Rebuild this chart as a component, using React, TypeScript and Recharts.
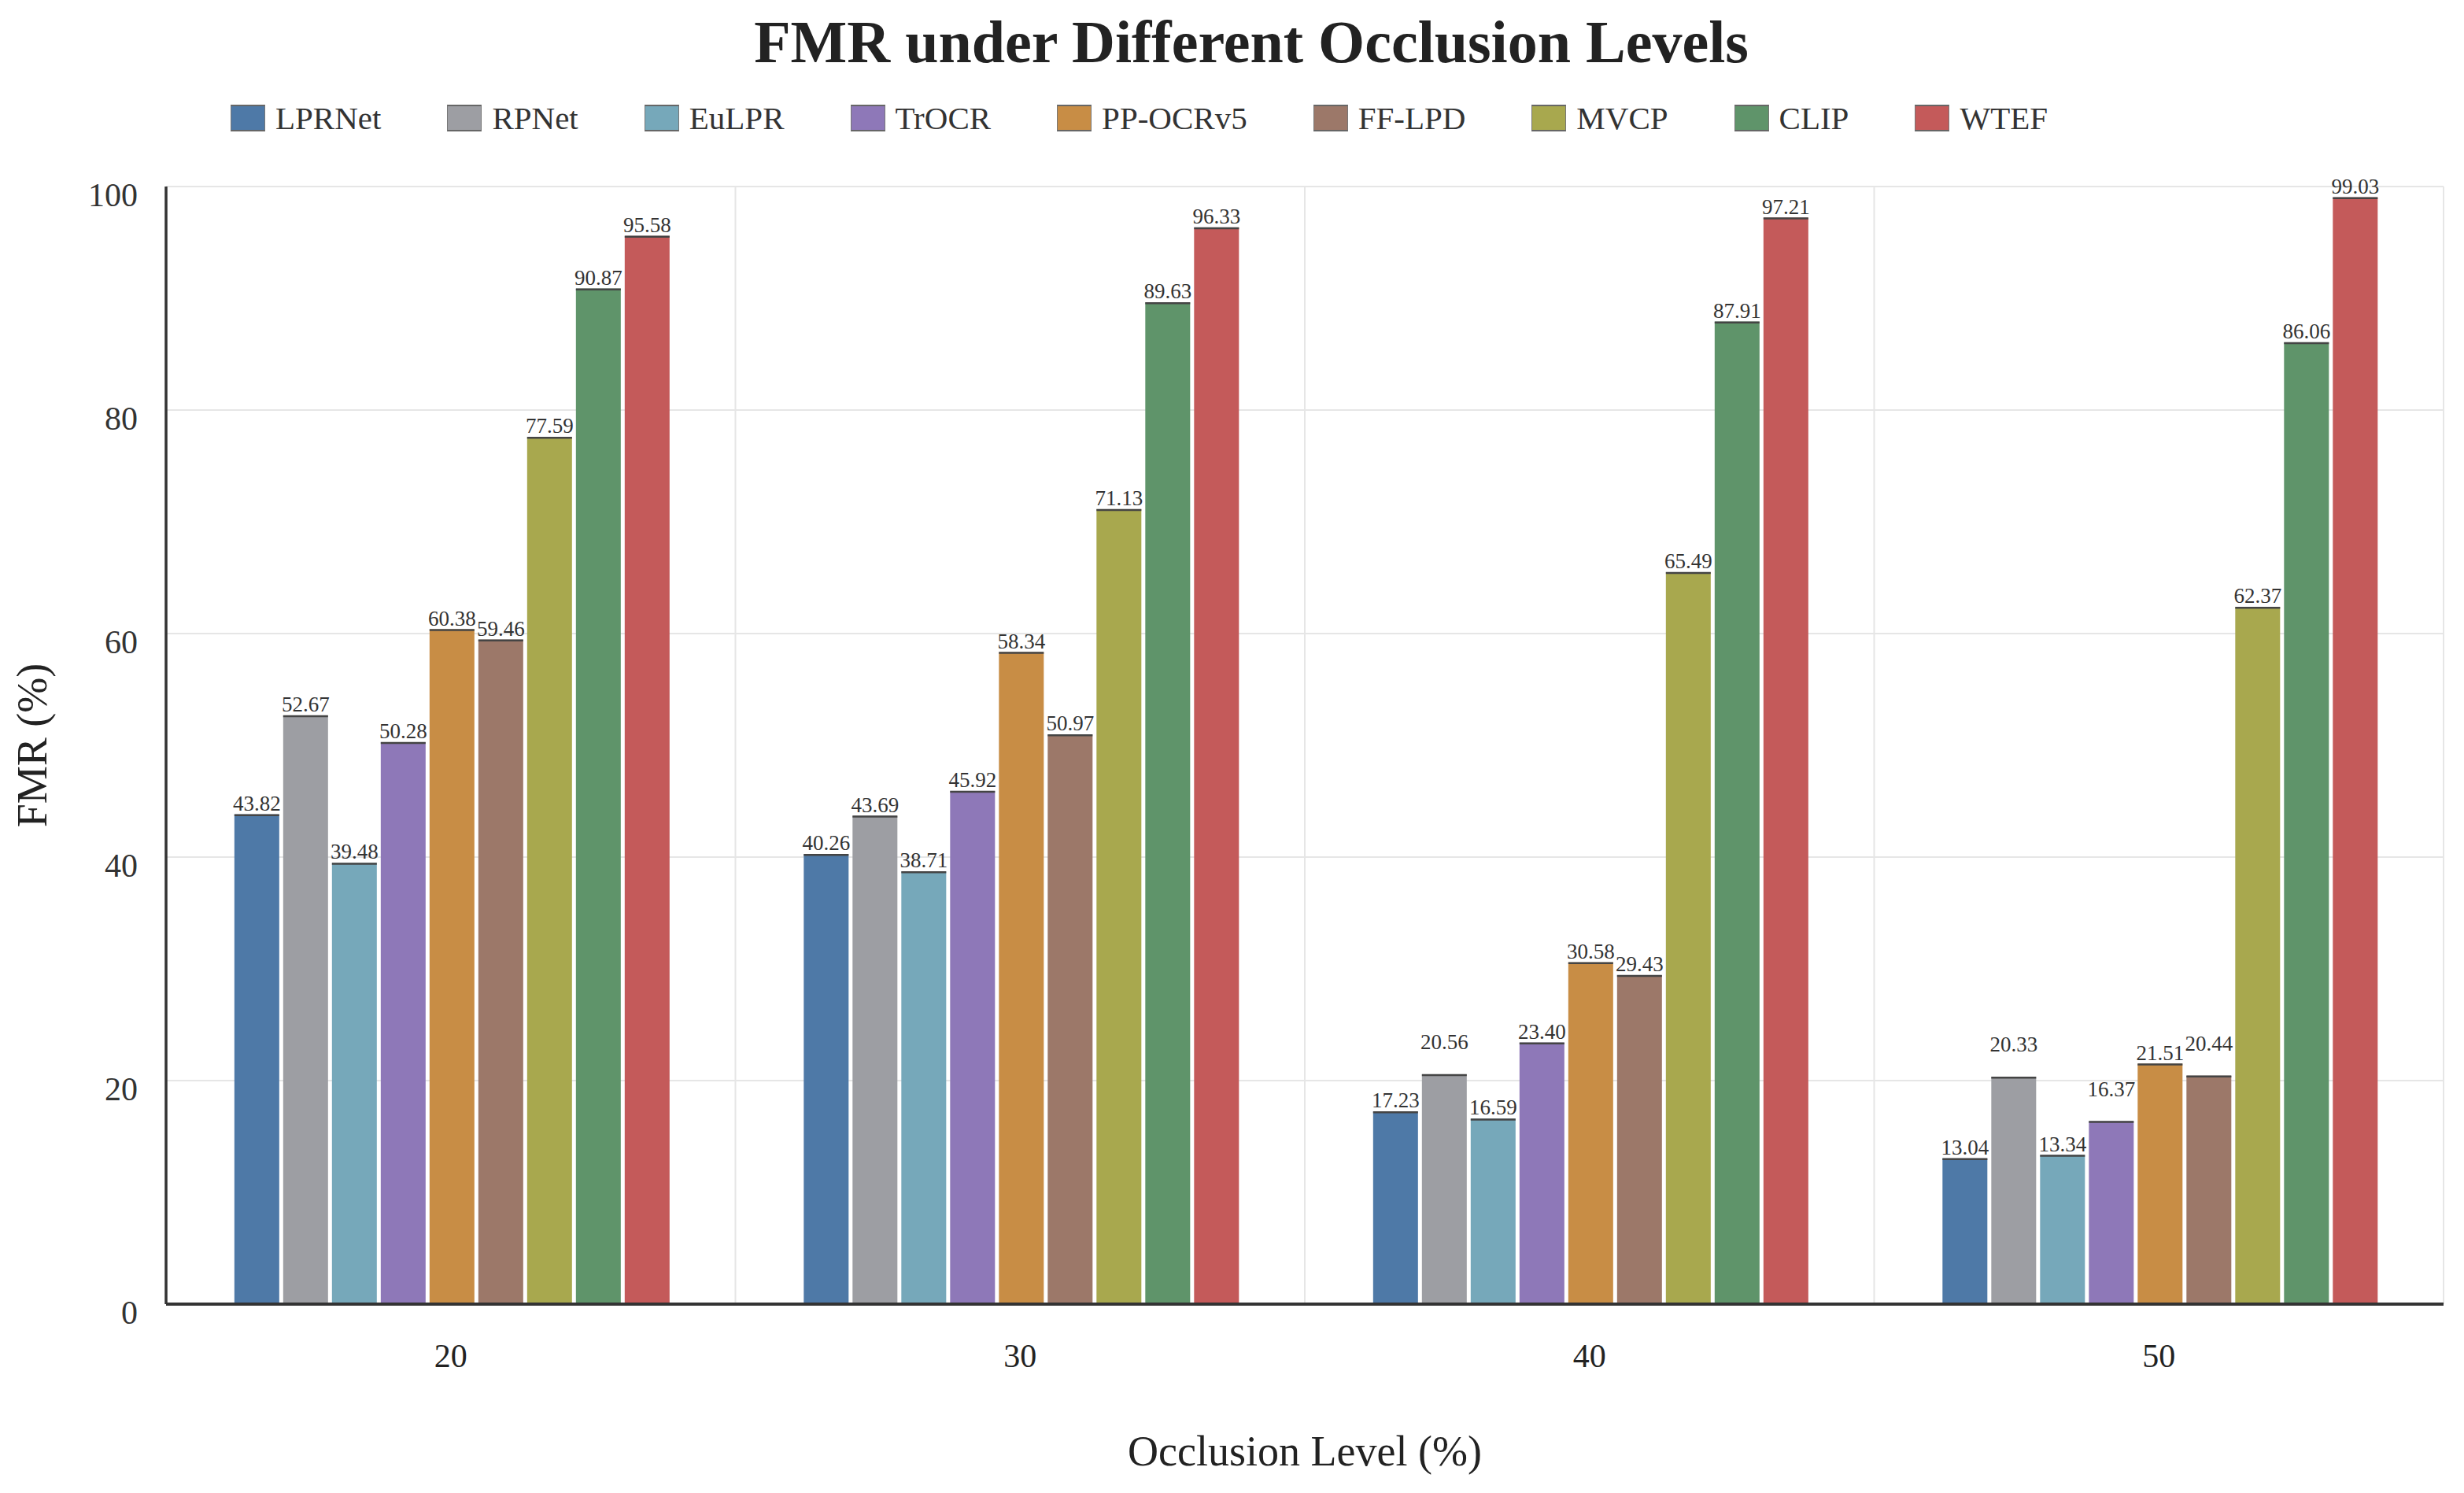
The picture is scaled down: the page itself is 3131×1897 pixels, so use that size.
import React from "react";
import {
  BarChart,
  Bar,
  XAxis,
  YAxis,
  CartesianGrid,
  LabelList,
} from "recharts";

const levels = ["20", "30", "40", "50"];
const methods = ["LPRNet", "RPNet", "EuLPR", "TrOCR", "PP-OCRv5", "FF-LPD", "MVCP", "CLIP", "WTEF"];

const lprnet = [43.82, 40.26, 17.23, 13.04];
const rpnet = [52.67, 43.69, 20.56, 20.33];
const eulpr = [39.48, 38.71, 16.59, 13.34];
const trocr = [50.28, 45.92, 23.4, 16.37];
const ppocr = [60.38, 58.34, 30.58, 21.51];
const fflpd = [59.46, 50.97, 29.43, 20.44];
const mvcp = [77.59, 71.13, 65.49, 62.37];
const clip = [90.87, 89.63, 87.91, 86.06];
const wtef = [95.58, 96.33, 97.21, 99.03];

const yTicks = [0, 20, 40, 60, 80, 100];

const seriesValues = [lprnet, rpnet, eulpr, trocr, ppocr, fflpd, mvcp, clip, wtef];

const COLORS = [
  "#4e79a7", // LPRNet
  "#9d9ea3", // RPNet
  "#76a8ba", // EuLPR
  "#8e78b8", // TrOCR
  "#c88d45", // PP-OCRv5
  "#9c7869", // FF-LPD
  "#a8a84e", // MVCP
  "#5f946a", // CLIP
  "#c45a5a", // WTEF
];

const FONT = '"Liberation Serif", "Times New Roman", serif';

const rows = levels.map((level, i) => {
  const row: Record<string, string | number> = { level };
  methods.forEach((m, s) => {
    row[m] = seriesValues[s][i];
  });
  return row;
});

function TopEdgeBar(props: any) {
  const { x, y, width, height, fill } = props;
  if (!height || height <= 0) return null;
  return (
    <g>
      <rect x={x} y={y} width={width} height={height} fill={fill} />
      <line x1={x} x2={x + width} y1={y + 1} y2={y + 1} stroke="#444" strokeWidth={2.5} />
    </g>
  );
}

// small labels of every other series are lifted so neighbours don't collide
function makeLabel(seriesIdx: number) {
  return function BarLabel(props: any) {
    const { x, y, width, value } = props;
    const lift = seriesIdx % 2 === 1 && value < 22 ? 27 : 0;
    return (
      <text
        x={x + width / 2}
        y={y - 5 - lift}
        textAnchor="middle"
        fontSize={27}
        fontFamily={FONT}
        fill="#333"
      >
        {Number(value).toFixed(2)}
      </text>
    );
  };
}

function YTick({ x, y, payload }: any) {
  return (
    <text x={x} y={y + 25} textAnchor="end" fontSize={42} fontFamily={FONT} fill="#333">
      {payload.value}
    </text>
  );
}

function XTick({ x, y, payload }: any) {
  return (
    <text x={x} y={y + 30} textAnchor="middle" fontSize={42} fontFamily={FONT} fill="#222">
      {payload.value}
    </text>
  );
}

function Legend() {
  return (
    <div
      style={{
        position: "absolute",
        left: 293,
        top: 133,
        display: "flex",
        alignItems: "center",
        fontFamily: FONT,
        fontSize: 41,
        color: "#333",
        lineHeight: "34px",
      }}
    >
      {methods.map((m, i) => (
        <div key={m} style={{ display: "flex", alignItems: "center", marginRight: 84 }}>
          <div
            style={{
              width: 44,
              height: 34,
              boxSizing: "border-box",
              background: COLORS[i],
              border: "1px solid #777",
              borderTop: "2px solid #666",
              borderBottom: "2px solid #666",
            }}
          />
          <span style={{ marginLeft: 13, whiteSpace: "nowrap" }}>{m}</span>
        </div>
      ))}
    </div>
  );
}

export default function App() {
  return (
    <div
      style={{
        position: "absolute",
        left: 0,
        top: 0,
        width: 3131,
        height: 1897,
        background: "#fff",
        fontFamily: FONT,
      }}
    >
      <div
        style={{
          position: "absolute",
          left: 0,
          width: 3180,
          top: 8,
          textAlign: "center",
          fontSize: 76,
          fontWeight: "bold",
          color: "#222",
          lineHeight: "90px",
        }}
      >
        FMR under Different Occlusion Levels
      </div>
      <Legend />
      <BarChart
        width={3131}
        height={1897}
        data={rows}
        margin={{ top: 237, right: 26, left: 111, bottom: 140 }}
        barCategoryGap="12%"
        barGap={5}
      >
        <CartesianGrid
          stroke="#e6e6e6"
          strokeWidth={2}
          verticalCoordinatesGenerator={({ offset }: any) =>
            [1, 2, 3, 4].map((i) => offset.left + (offset.width * i) / levels.length)
          }
        />
        <XAxis
          dataKey="level"
          height={100}
          tickSize={0}
          tickMargin={50}
          tick={<XTick />}
          axisLine={{ stroke: "#333", strokeWidth: 4 }}
          tickLine={false}
        />
        <YAxis
          width={100}
          domain={[0, 100]}
          ticks={yTicks}
          tickSize={0}
          tickMargin={36}
          tick={<YTick />}
          axisLine={{ stroke: "#333", strokeWidth: 3.5 }}
          tickLine={false}
        />
        {methods.map((m, i) => (
          <Bar key={m} dataKey={m} fill={COLORS[i]} shape={<TopEdgeBar />} isAnimationActive={false}>
            <LabelList dataKey={m} content={makeLabel(i)} />
          </Bar>
        ))}
      </BarChart>
      <div
        style={{
          position: "absolute",
          left: 211,
          width: 2894,
          top: 1812,
          textAlign: "center",
          fontSize: 54,
          color: "#222",
          lineHeight: "64px",
        }}
      >
        Occlusion Level (%)
      </div>
      <div
        style={{
          position: "absolute",
          left: 41,
          top: 947,
          transform: "translate(-50%, -50%) rotate(-90deg)",
          fontSize: 54,
          color: "#222",
          whiteSpace: "nowrap",
          lineHeight: "64px",
        }}
      >
        FMR (%)
      </div>
    </div>
  );
}
